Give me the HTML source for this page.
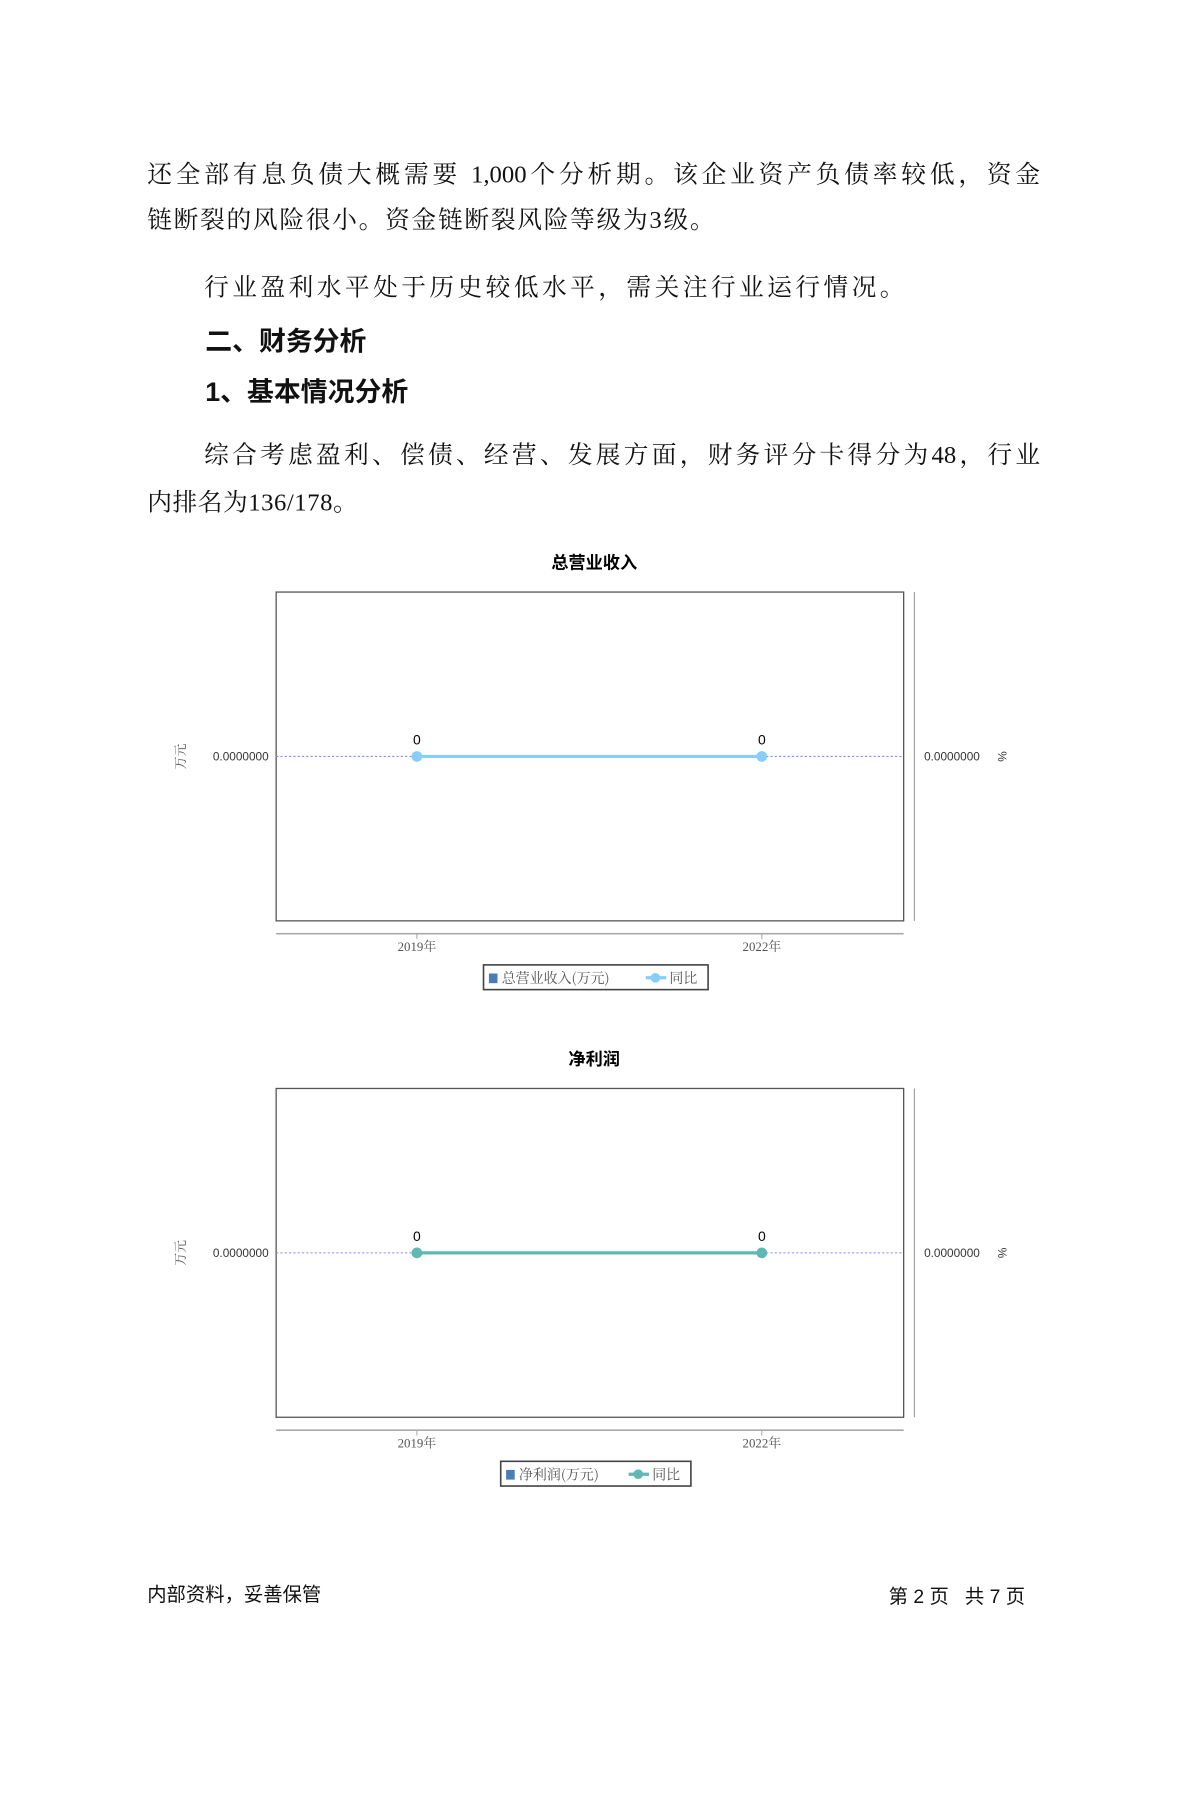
<!DOCTYPE html>
<html><head><meta charset="utf-8"><style>
body{margin:0;width:1191px;height:1684px;background:#fff;position:relative;overflow:hidden;font-family:"Liberation Serif","Noto Serif CJK SC",serif;color:#111}
#w{position:absolute;left:0;top:0;width:1191px;height:1684px;transform:scale(1.0745);transform-origin:0 0}
.t{position:absolute;white-space:nowrap}
.p{position:absolute;left:137px;width:831px;font-size:23px;text-align:justify;text-align-last:justify;white-space:nowrap}
.h{position:absolute;font-family:"Liberation Sans","Noto Sans CJK SC",sans-serif;font-weight:bold;font-size:25px}
.s{font-family:"Liberation Sans","Noto Sans CJK SC",sans-serif}
</style></head><body><div id="w">
<div class="p" style="top:144px">还全部有息负债大概需要 1,000个分析期。该企业资产负债率较低，资金</div>
<div class="t" style="left:137px;top:186px;font-size:23px;letter-spacing:1.6px">链断裂的风险很小。资金链断裂风险等级为3级。</div>
<div class="t" style="left:190px;top:249px;font-size:23px;letter-spacing:3.2px">行业盈利水平处于历史较低水平，需关注行业运行情况。</div>
<div class="h" style="left:191px;top:298px">二、财务分析</div>
<div class="h" style="left:191px;top:345px">1、基本情况分析</div>
<div class="p" style="top:405px;left:190px;width:778px">综合考虑盈利、偿债、经营、发展方面，财务评分卡得分为48，行业</div>
<div class="t" style="left:137px;top:449px;font-size:23px;letter-spacing:0.5px">内排名为136/178。</div>

<svg width="1191" height="1684" style="position:absolute;left:0;top:0" font-family="Liberation Sans, Noto Sans CJK SC, sans-serif">
<g id="c1">
<text x="553" y="529" font-size="16" font-weight="bold" text-anchor="middle">总营业收入</text>
<rect x="257" y="551" width="584" height="306" fill="none" stroke="#555" stroke-width="1.2"/>
<line x1="851" y1="551" x2="851" y2="857" stroke="#999"/>
<line x1="257" y1="869" x2="841" y2="869" stroke="#aaa" stroke-width="1.5"/>
<line x1="388" y1="869" x2="388" y2="874" stroke="#aaa"/><line x1="709" y1="869" x2="709" y2="874" stroke="#aaa"/>
<line x1="257" y1="704" x2="841" y2="704" stroke="#88f" stroke-dasharray="2,2"/>
<line x1="388" y1="704" x2="709" y2="704" stroke="#87cefa" stroke-width="3"/>
<circle cx="388" cy="704" r="5" fill="#87cefa"/><circle cx="709" cy="704" r="5" fill="#87cefa"/>
<text x="388" y="693" font-size="13" text-anchor="middle">0</text><text x="709" y="693" font-size="13" text-anchor="middle">0</text>
<text x="250" y="708" font-size="11" text-anchor="end" fill="#333">0.0000000</text>
<text x="860" y="708" font-size="11" fill="#333">0.0000000</text>
<text transform="translate(172,704) rotate(-90)" font-size="12" text-anchor="middle" fill="#555" font-family="Noto Serif CJK SC, serif">万元</text>
<text transform="translate(929,704) rotate(90)" font-size="11" text-anchor="middle" fill="#333">%</text>
<text x="388" y="885" font-size="12" text-anchor="middle" fill="#555" font-family="Liberation Serif, Noto Serif CJK SC, serif">2019年</text>
<text x="709" y="885" font-size="12" text-anchor="middle" fill="#555" font-family="Liberation Serif, Noto Serif CJK SC, serif">2022年</text>
<rect x="450" y="898" width="209" height="23" fill="#fff" stroke="#444" stroke-width="1.5"/>
<rect x="455" y="906" width="8" height="9" fill="#4a7db5"/>
<text x="467" y="915" font-size="13" fill="#555" font-family="Noto Serif CJK SC, serif">总营业收入(万元)</text>
<line x1="601" y1="910" x2="620" y2="910" stroke="#87cefa" stroke-width="3"/><circle cx="610" cy="910" r="4.5" fill="#87cefa"/>
<text x="623" y="915" font-size="13" fill="#555" font-family="Noto Serif CJK SC, serif">同比</text>
</g>
<g transform="translate(0,462)">
<text x="553" y="529" font-size="16" font-weight="bold" text-anchor="middle">净利润</text>
<rect x="257" y="551" width="584" height="306" fill="none" stroke="#555" stroke-width="1.2"/>
<line x1="851" y1="551" x2="851" y2="857" stroke="#999"/>
<line x1="257" y1="869" x2="841" y2="869" stroke="#aaa" stroke-width="1.5"/>
<line x1="388" y1="869" x2="388" y2="874" stroke="#aaa"/><line x1="709" y1="869" x2="709" y2="874" stroke="#aaa"/>
<line x1="257" y1="704" x2="841" y2="704" stroke="#88f" stroke-dasharray="2,2"/>
<line x1="388" y1="704" x2="709" y2="704" stroke="#5fb8b2" stroke-width="3"/>
<circle cx="388" cy="704" r="5" fill="#5fb8b2"/><circle cx="709" cy="704" r="5" fill="#5fb8b2"/>
<text x="388" y="693" font-size="13" text-anchor="middle">0</text><text x="709" y="693" font-size="13" text-anchor="middle">0</text>
<text x="250" y="708" font-size="11" text-anchor="end" fill="#333">0.0000000</text>
<text x="860" y="708" font-size="11" fill="#333">0.0000000</text>
<text transform="translate(172,704) rotate(-90)" font-size="12" text-anchor="middle" fill="#555" font-family="Noto Serif CJK SC, serif">万元</text>
<text transform="translate(929,704) rotate(90)" font-size="11" text-anchor="middle" fill="#333">%</text>
<text x="388" y="885" font-size="12" text-anchor="middle" fill="#555" font-family="Liberation Serif, Noto Serif CJK SC, serif">2019年</text>
<text x="709" y="885" font-size="12" text-anchor="middle" fill="#555" font-family="Liberation Serif, Noto Serif CJK SC, serif">2022年</text>
<rect x="466" y="898" width="177" height="23" fill="#fff" stroke="#444" stroke-width="1.5"/>
<rect x="471" y="906" width="8" height="9" fill="#4a7db5"/>
<text x="483" y="915" font-size="13" fill="#555" font-family="Noto Serif CJK SC, serif">净利润(万元)</text>
<line x1="585" y1="910" x2="604" y2="910" stroke="#5fb8b2" stroke-width="3"/><circle cx="594" cy="910" r="4.5" fill="#5fb8b2"/>
<text x="607" y="915" font-size="13" fill="#555" font-family="Noto Serif CJK SC, serif">同比</text>
</g>
</svg>
<div class="t s" style="left:137px;top:1470px;font-size:18px">内部资料，妥善保管</div>
<div class="t s" style="left:827px;top:1472px;font-size:18px">第 2 页&nbsp;&nbsp;&nbsp;共 7 页</div>
</div></body></html>
